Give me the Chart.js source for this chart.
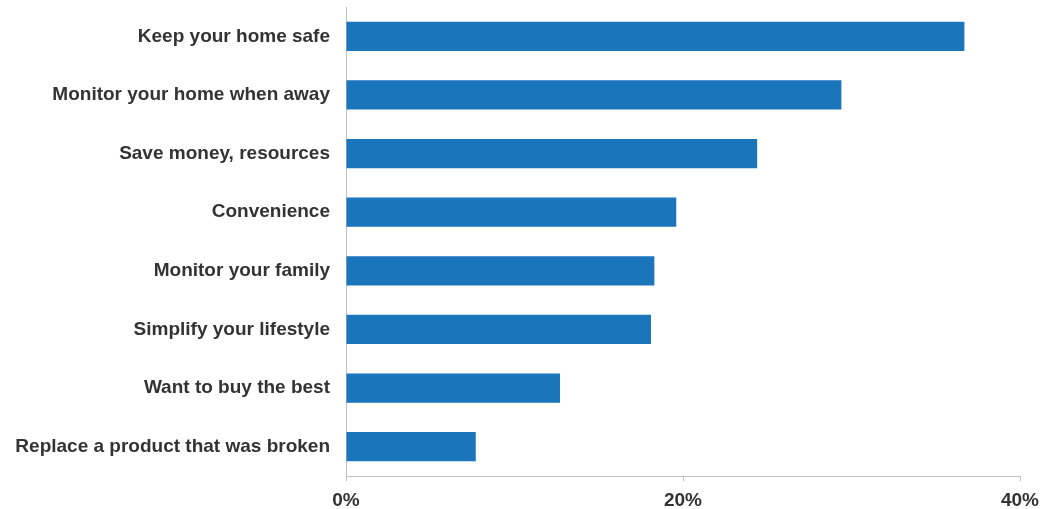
<!DOCTYPE html>
<html>
<head>
<meta charset="utf-8">
<script src="https://cdn.jsdelivr.net/npm/chart.js@4/dist/chart.umd.min.js"></script>
<style>
  html, body { margin: 0; padding: 0; background: #fff; }
  #wrap { width: 1055px; height: 509px; }
</style>
</head>
<body>
<div id="wrap"><canvas id="reasonChart"></canvas></div>
<script>
  // Data
  const reasons = [
    "Keep your home safe",
    "Monitor your home when away",
    "Save money, resources",
    "Convenience",
    "Monitor your family",
    "Simplify your lifestyle",
    "Want to buy the best",
    "Replace a product that was broken"
  ];
  const shares = [36.7, 29.4, 24.4, 19.6, 18.3, 18.1, 12.7, 7.7];
  const xTicks = [0, 20, 40];

  const axisColor = "#bfbfbf";
  const textColor = "#333333";
  const labelFont = { family: "Liberation Sans, Arial, sans-serif", size: 19, weight: "bold" };

  const ctx = document.getElementById("reasonChart").getContext("2d");
  new Chart(ctx, {
    type: "bar",
    data: {
      labels: reasons,
      datasets: [{
        data: shares,
        backgroundColor: "#1b75bb",
        borderWidth: 0,
        categoryPercentage: 1,
        barPercentage: 0.5
      }]
    },
    options: {
      indexAxis: "y",
      responsive: true,
      maintainAspectRatio: false,
      animation: false,
      layout: { padding: { top: 7, right: 35, left: 0, bottom: 0 } },
      plugins: { legend: { display: false }, tooltip: { enabled: false } },
      scales: {
        x: {
          min: 0,
          max: 40,
          afterBuildTicks: (scale) => { scale.ticks = xTicks.map(v => ({ value: v })); },
          afterFit: (scale) => { scale.height = 33; },
          grid: { drawOnChartArea: false, drawTicks: true, tickLength: 5, color: axisColor },
          border: { color: axisColor, width: 1 },
          ticks: {
            padding: 8,
            color: textColor,
            font: labelFont,
            callback: (v) => v + "%",
            maxRotation: 0
          }
        },
        y: {
          afterFit: (scale) => {
            scale.width = 346;
            // label padding should not push the plot down
            scale.paddingTop = 0;
            scale.paddingBottom = 0;
          },
          grid: { drawOnChartArea: false, drawTicks: false },
          border: { color: axisColor, width: 1 },
          ticks: {
            padding: 16,
            color: textColor,
            font: labelFont
          }
        }
      }
    }
  });
</script>
</body>
</html>
